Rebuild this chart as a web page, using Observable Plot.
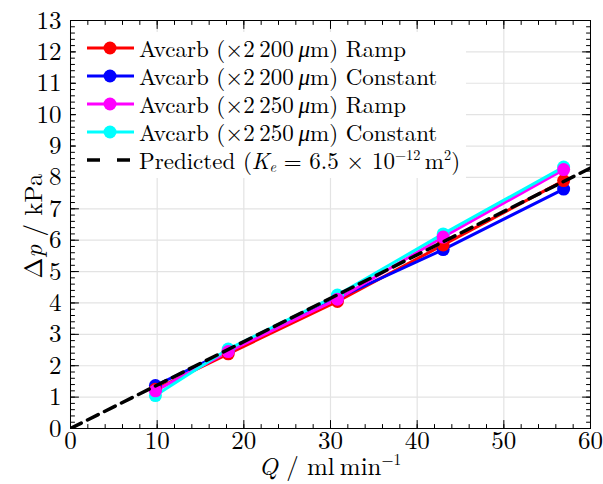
<!DOCTYPE html>
<html>
<head>
<meta charset="utf-8">
<script src="https://cdn.jsdelivr.net/npm/d3@7"></script>
<script src="https://cdn.jsdelivr.net/npm/@observablehq/plot@0.6"></script>
<style>
  body { margin: 0; background: white; }
  #wrap { position: relative; width: 603px; height: 484px; font-family: "Latin Modern Roman", "CMU Serif", "Liberation Serif", "DejaVu Serif", serif; }
  #wrap > svg { position: absolute; left: 0; top: 0; }
  .lbl { position: absolute; white-space: nowrap; font-size: 25px; line-height: 1; color: #000; }
  #legend { position: absolute; left: 76px; top: 32px; width: 390px; height: 146px; background: white; }
  .row { position: absolute; left: 0; height: 28px; width: 100%; }
  .row svg { position: absolute; left: 0; top: 0; }
  .row span { position: absolute; left: 63px; top: 50%; transform: translateY(-54%); font-size: 23px; line-height: 1; white-space: nowrap; }
  sup { font-size: 0.62em; vertical-align: 0.62em; line-height: 0; }
  sub { font-size: 0.62em; vertical-align: -0.25em; line-height: 0; }
</style>
</head>
<body>
<div id="wrap"></div>
<script>
// ---- data ----
const Q = [9.8, 18.2, 30.8, 43, 56.9];
const dpRamp200 = [1.25, 2.38, 4.05, 5.85, 7.9];
const dpConst200 = [1.37, 2.47, 4.15, 5.7, 7.63];
const dpRamp250 = [1.2, 2.45, 4.12, 6.1, 8.25];
const dpConst250 = [1.05, 2.53, 4.25, 6.2, 8.33];
const predQ = [0, 60];
const predDp = [0, 8.3];

const seriesNames = [
  "Avcarb (×2 200 μm) Ramp",
  "Avcarb (×2 200 μm) Constant",
  "Avcarb (×2 250 μm) Ramp",
  "Avcarb (×2 250 μm) Constant"
];
const seriesValues = [dpRamp200, dpConst200, dpRamp250, dpConst250];
const seriesColors = ["#ff0000", "#0000ff", "#ff00ff", "#00ffff"];
const dotOrder = [1, 0, 3, 2];

const xTicks = [0, 10, 20, 30, 40, 50, 60];
const yTicks = [0, 1, 2, 3, 4, 5, 6, 7, 8, 9, 10, 11, 12, 13];
const xMinor = d3.range(0, 60.001, 2);
const yMinor = d3.range(0, 13.001, 0.2);

// ---- build table ----
const rows = [];
seriesValues.forEach((vals, i) => vals.forEach((v, j) => rows.push({series: seriesNames[i], q: Q[j], dp: v})));
const pred = predQ.map((q, i) => ({q, dp: predDp[i]}));

const tickShape = {draw(ctx, l) { ctx.moveTo(0, 0); ctx.lineTo(0, -l); }};
const tickMarks = (data, anchor, rot, len, ch) =>
  Plot.vector(data, {[ch]: d => d, frameAnchor: anchor, rotate: rot, length: len, anchor: "start", shape: tickShape, stroke: "black", strokeWidth: 1});

const marks = [
  Plot.gridX(xTicks, {stroke: "#e3e3e3", strokeOpacity: 1, strokeWidth: 1.2}),
  Plot.gridY(yTicks, {stroke: "#e3e3e3", strokeOpacity: 1, strokeWidth: 1.2})
];
seriesNames.forEach((name, i) => {
  const d = rows.filter(r => r.series === name);
  marks.push(Plot.line(d, {x: "q", y: "dp", stroke: seriesColors[i], strokeWidth: 3}));
});
dotOrder.forEach(i => {
  const d = rows.filter(r => r.series === seriesNames[i]);
  marks.push(Plot.dot(d, {x: "q", y: "dp", fill: seriesColors[i], r: 6.5, stroke: "none"}));
});
marks.push(Plot.line(pred, {x: "q", y: "dp", stroke: "black", strokeWidth: 3.5, strokeDasharray: "12,7", clip: true}));
marks.push(Plot.frame({stroke: "black", strokeWidth: 1}));
marks.push(tickMarks(xMinor, "bottom", 0, 4, "x"), tickMarks(xTicks, "bottom", 0, 8, "x"));
marks.push(tickMarks(xMinor, "top", 180, 4, "x"), tickMarks(xTicks, "top", 180, 8, "x"));
marks.push(tickMarks(yMinor, "left", 90, 4, "y"), tickMarks(yTicks, "left", 90, 8, "y"));
marks.push(tickMarks(yMinor, "right", -90, 4, "y"), tickMarks(yTicks, "right", -90, 8, "y"));
marks.push(Plot.axisX(xTicks, {tickSize: 0, tickPadding: 3, label: null, fontSize: 25}));
marks.push(Plot.axisY(yTicks, {tickSize: 0, tickPadding: 9, label: null, fontSize: 25}));

const chart = Plot.plot({
  width: 603, height: 484,
  marginLeft: 70, marginRight: 13, marginTop: 20, marginBottom: 56,
  x: {domain: [0, 60]},
  y: {domain: [0, 13]},
  style: {fontFamily: '"Latin Modern Roman", "CMU Serif", "Liberation Serif", serif', fontSize: "25px", color: "black", background: "white", overflow: "visible"},
  marks
});

const wrap = document.getElementById("wrap");
wrap.appendChild(chart);

// axis titles
const yl = document.createElement("div");
yl.className = "lbl";
yl.innerHTML = "Δ<i>p</i> / kPa";
yl.style.left = "31px"; yl.style.top = "226px";
yl.style.transform = "translate(-50%,-50%) rotate(-90deg)";
wrap.appendChild(yl);

const xl = document.createElement("div");
xl.className = "lbl";
xl.innerHTML = "<i>Q</i> / ml&thinsp;min<sup>−1</sup>";
xl.style.left = "330px"; xl.style.top = "464px";
xl.style.transform = "translate(-50%,-50%)";
wrap.appendChild(xl);

// legend
const legend = document.createElement("div");
legend.id = "legend";
const legendHtml = [
  "Avcarb (×2&thinsp;200&thinsp;<i>μ</i>m) Ramp",
  "Avcarb (×2&thinsp;200&thinsp;<i>μ</i>m) Constant",
  "Avcarb (×2&thinsp;250&thinsp;<i>μ</i>m) Ramp",
  "Avcarb (×2&thinsp;250&thinsp;<i>μ</i>m) Constant",
  "Predicted (<i>K<sub>e</sub></i> = 6.5 × 10<sup>−12</sup>&thinsp;m<sup>2</sup>)"
];
const rowTops = [2, 30, 58, 86, 114];
legendHtml.forEach((h, i) => {
  const r = document.createElement("div");
  r.className = "row";
  r.style.top = rowTops[i] + "px";
  let sample;
  if (i < 4) {
    sample = `<svg width="62" height="28"><line x1="11" x2="58" y1="14" y2="14" stroke="${seriesColors[i]}" stroke-width="3"/><circle cx="34" cy="14" r="6.5" fill="${seriesColors[i]}"/></svg>`;
  } else {
    sample = `<svg width="62" height="28"><line x1="11" x2="58" y1="14" y2="14" stroke="black" stroke-width="3.5" stroke-dasharray="13,17"/></svg>`;
  }
  r.innerHTML = sample + `<span>${h}</span>`;
  legend.appendChild(r);
});
wrap.appendChild(legend);
</script>
</body>
</html>
